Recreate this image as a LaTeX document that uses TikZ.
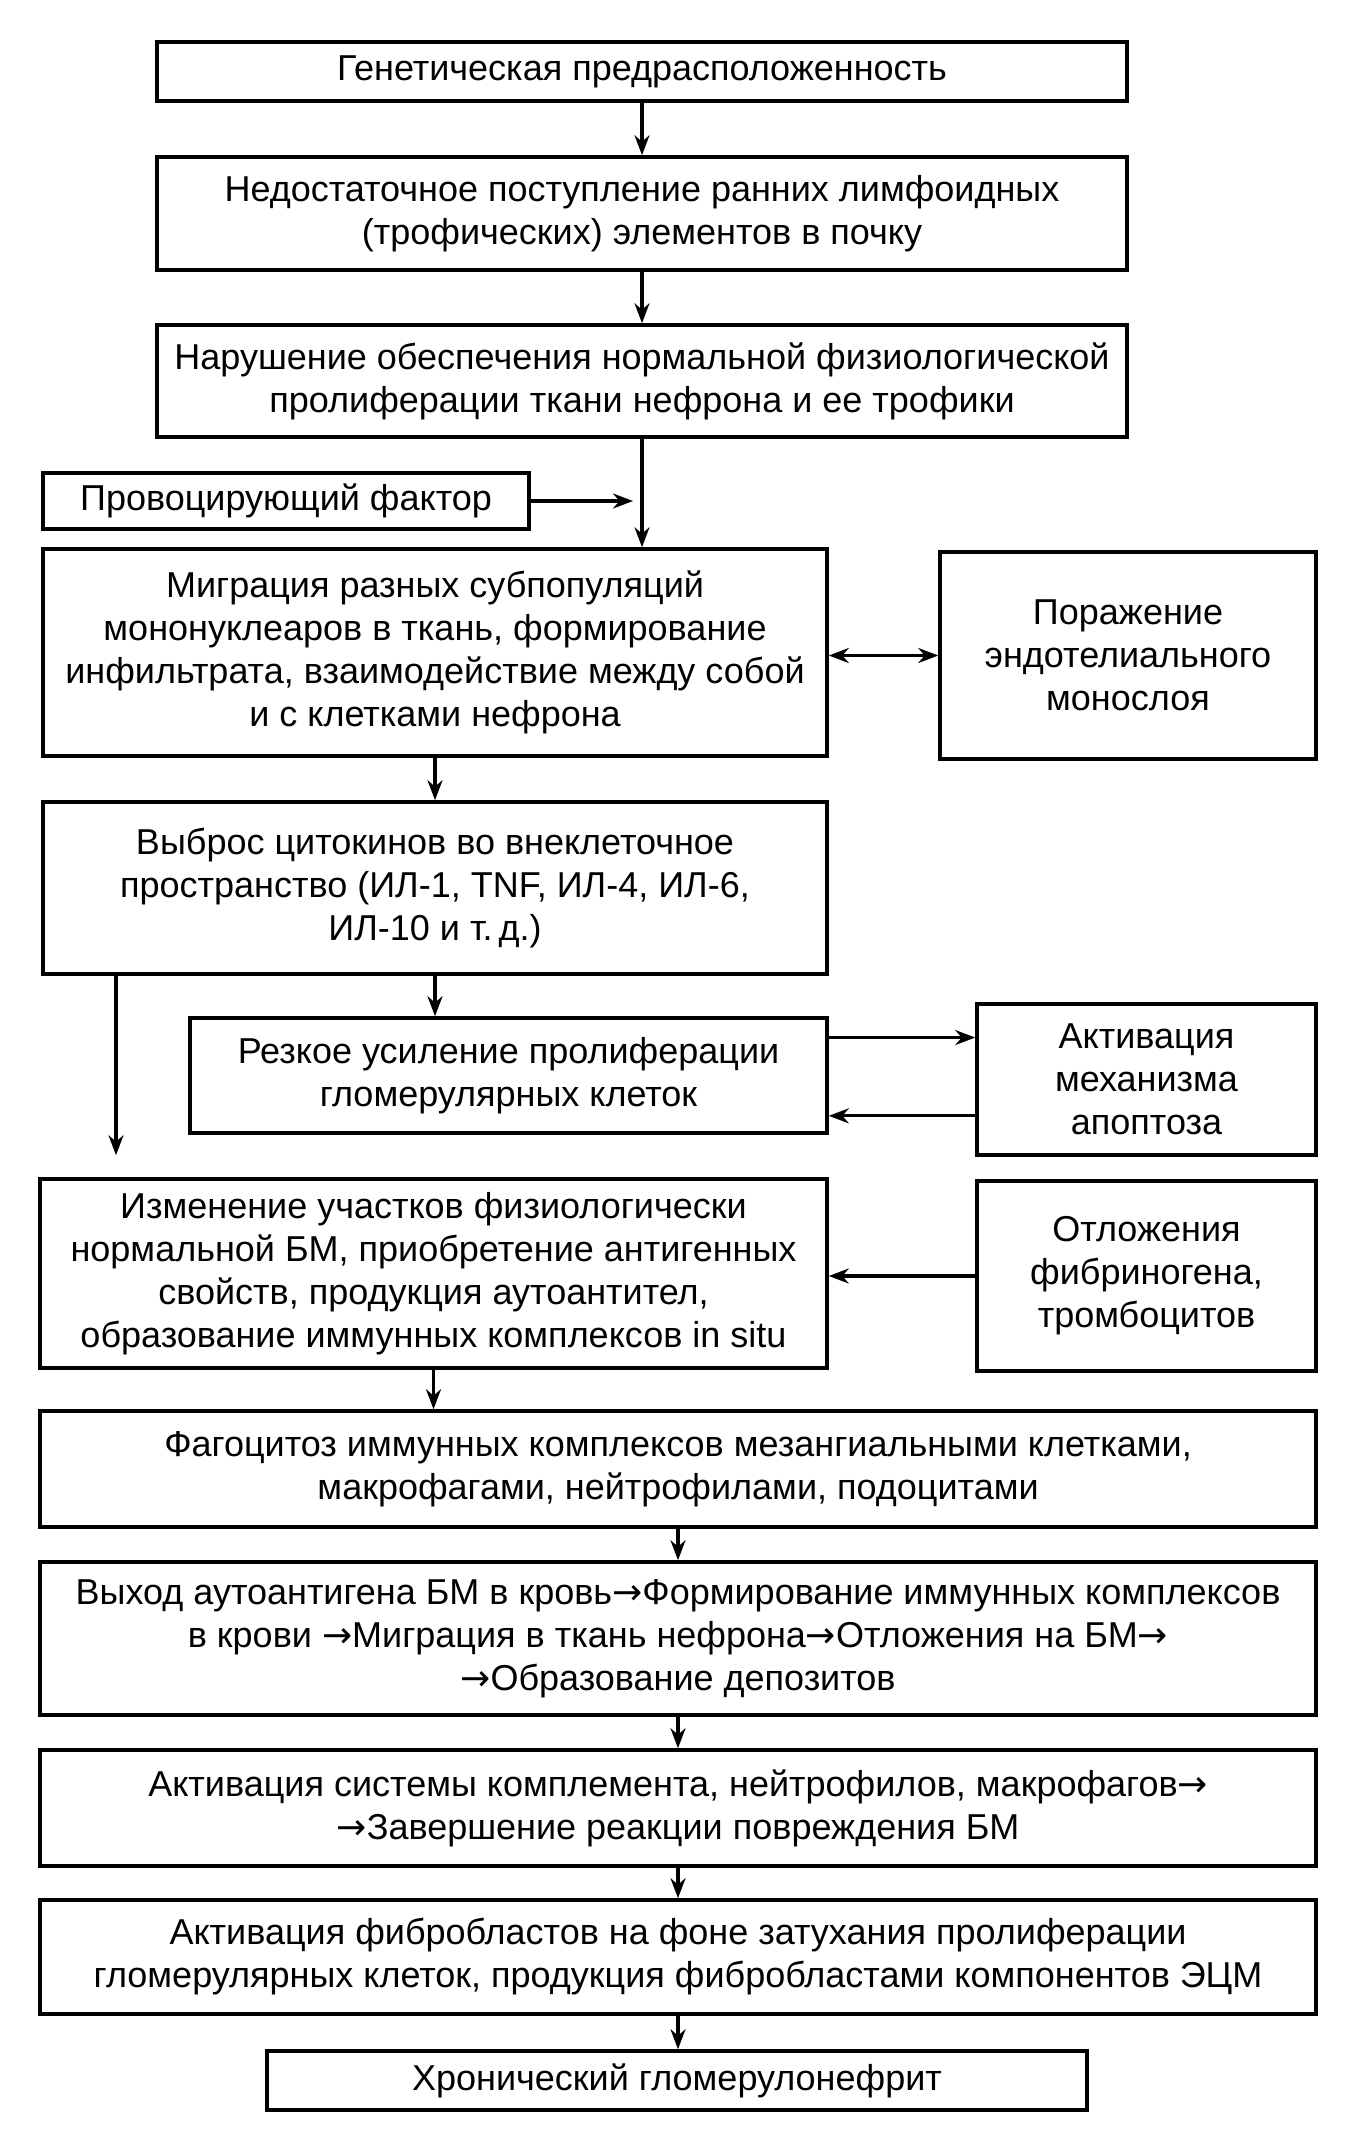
\documentclass[tikz,border=0pt]{standalone}
\usepackage{fontspec}
\setmainfont{Liberation Sans}
\newfontfamily\arrfont{DejaVu Sans}
\newcommand{\ar}{{\arrfont →}}
\usetikzlibrary{arrows.meta,calc}
\begin{document}
\begin{tikzpicture}[x=0.5pt,y=-0.5pt,
  box/.style={draw, line width=1.8pt, align=center, inner sep=0pt, font=\fontsize{18}{21.5}\selectfont},
  arr/.style={line width=1.6pt, -{Stealth[length=10pt,width=7.5pt]}},
  darr/.style={line width=1.6pt, {Stealth[length=10pt,width=7.5pt]}-{Stealth[length=10pt,width=7.5pt]}}]
\fill[white] (0,0) rectangle (1344,2147);
\node[box, minimum width=485pt, minimum height=29.5pt] (b1) at (642,71.5) {Генетическая предрасположенность};
\node[box, minimum width=485pt, minimum height=56.5pt] (b2) at (642,213.5) {Недостаточное поступление ранних лимфоидных\\(трофических) элементов в почку};
\node[box, minimum width=485pt, minimum height=56pt] (b3) at (642,381) {Нарушение обеспечения нормальной физиологической\\пролиферации ткани нефрона и ее трофики};
\node[box, minimum width=243pt, minimum height=28pt] (prov) at (286,501) {Провоцирующий фактор};
\node[box, minimum width=392pt, minimum height=103.5pt] (mig) at (435,652.5) {Миграция разных субпопуляций\\мононуклеаров в ткань, формирование\\инфильтрата, взаимодействие между собой\\и с клетками нефрона};
\node[box, minimum width=188pt, minimum height=103.5pt] (por) at (1128,655.5) {Поражение\\эндотелиального\\монослоя};
\node[box, minimum width=392pt, minimum height=86pt] (cyt) at (435,888) {Выброс цитокинов во внеклеточное\\пространство (ИЛ-1, TNF, ИЛ-4, ИЛ-6,\\ИЛ-10 и т.\,д.)};
\node[box, minimum width=318.5pt, minimum height=57.5pt] (rez) at (508.5,1075.5) {Резкое усиление пролиферации\\гломерулярных клеток};
\node[box, minimum width=169.5pt, minimum height=75.5pt] (akt) at (1146.5,1079.5) {Активация\\механизма\\апоптоза};
\node[box, minimum width=393.5pt, minimum height=94.5pt] (izm) at (433.5,1273.5) {Изменение участков физиологически\\нормальной БМ, приобретение антигенных\\свойств, продукция аутоантител,\\образование иммунных комплексов in situ};
\node[box, minimum width=169.5pt, minimum height=95pt] (otl) at (1146.5,1276) {Отложения\\фибриногена,\\тромбоцитов};
\node[box, minimum width=638pt, minimum height=58pt] (fag) at (678,1469) {Фагоцитоз иммунных комплексов мезангиальными клетками,\\макрофагами, нейтрофилами, подоцитами};
\node[box, minimum width=638pt, minimum height=76.5pt] (vyh) at (678,1638.5) {Выход аутоантигена БМ в кровь\ar Формирование иммунных комплексов\\в крови \ar Миграция в ткань нефрона\ar Отложения на БМ\ar\\\ar Образование депозитов};
\node[box, minimum width=638pt, minimum height=58pt] (aks) at (678,1808) {Активация системы комплемента, нейтрофилов, макрофагов\ar\\\ar Завершение реакции повреждения БМ};
\node[box, minimum width=638pt, minimum height=57pt] (fib) at (678,1957) {Активация фибробластов на фоне затухания пролиферации\\гломерулярных клеток, продукция фибробластами компонентов ЭЦМ};
\node[box, minimum width=410pt, minimum height=29.5pt] (hron) at (677,2080.5) {Хронический гломерулонефрит};
\draw[arr] (b1.south) -- (b2.north);
\draw[arr] (b2.south) -- (b3.north);
\draw[arr] (b3.south) -- (b3.south |- mig.north);
\draw[arr, shorten >=4.5pt] (prov.east) -- (prov.east -| b3.south);
\draw[darr] (por.west -| mig.east) -- (por.west);
\draw[arr] (mig.south) -- (cyt.north);
\draw[arr] (cyt.south) -- (cyt.south |- rez.north);
\coordinate (lx) at (116,0);
\draw[arr, shorten >=11pt] (cyt.south -| lx) -- (izm.north -| lx);
\coordinate (r1) at ($(rez.north east)!0.18!(rez.south east)$);
\coordinate (r2) at ($(rez.north east)!0.84!(rez.south east)$);
\draw[arr] (r1) -- (r1 -| akt.west);
\draw[arr] (r2 -| akt.west) -- (r2);
\draw[arr] (otl.west) -- (otl.west -| izm.east);
\draw[arr] (izm.south) -- (izm.south |- fag.north);
\draw[arr] (fag.south) -- (vyh.north);
\draw[arr] (vyh.south) -- (aks.north);
\draw[arr] (aks.south) -- (fib.north);
\draw[arr] (fib.south) -- (fib.south |- hron.north);
\end{tikzpicture}
\end{document}
